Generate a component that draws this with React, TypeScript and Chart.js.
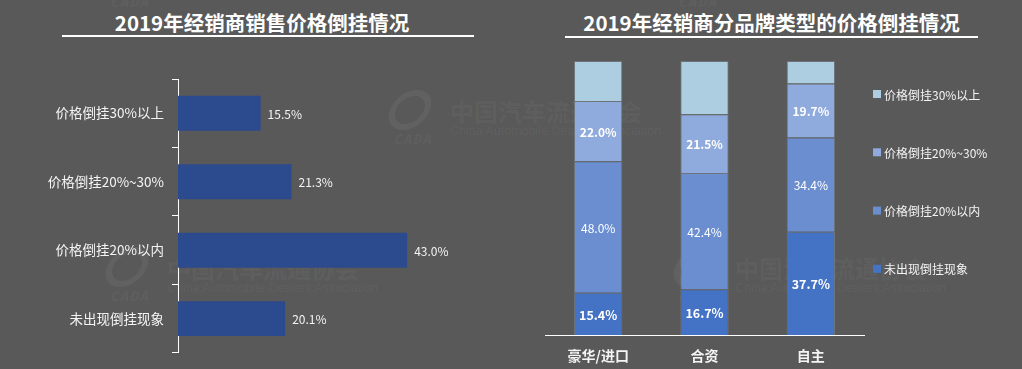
import React, { useEffect, useRef } from "react";
import { Chart, registerables } from "chart.js";

Chart.register(...registerables);

const FONT = '"Noto Sans CJK SC", "Microsoft YaHei", sans-serif';

// ---- Left chart data ----
const leftTitle = "2019年经销商销售价格倒挂情况";
const leftCategories = ["价格倒挂30%以上", "价格倒挂20%~30%", "价格倒挂20%以内", "未出现倒挂现象"];
const leftValues = [15.5, 21.3, 43.0, 20.1];

// ---- Right chart data ----
const rightTitle = "2019年经销商分品牌类型的价格倒挂情况";
const brandCategories = ["豪华/进口", "合资", "自主"];
const seriesNames = ["未出现倒挂现象", "价格倒挂20%以内", "价格倒挂20%~30%", "价格倒挂30%以上"];
const noInversion = [15.4, 16.7, 37.7];
const within20 = [48.0, 42.4, 34.4];
const from20to30 = [22.0, 21.5, 19.7];
const above30 = [14.6, 19.4, 8.2];
const seriesColors = ["#4472C4", "#6A8ED0", "#8FAADC", "#ADCDE0"];
const labeledSeries = [true, true, true, false];
const boldSeries = [true, false, true, false];

const BG = "#595959";
const TEXT = "#f4f4f4";

const leftLabelPlugin = {
  id: "leftLabels",
  afterDatasetsDraw(chart: any) {
    const ctx = chart.ctx;
    const meta = chart.getDatasetMeta(0);
    ctx.save();
    ctx.font = `12px ${FONT}`;
    ctx.fillStyle = TEXT;
    ctx.textAlign = "left";
    ctx.textBaseline = "middle";
    meta.data.forEach((bar: any, i: number) => {
      ctx.fillText(leftValues[i].toFixed(1) + "%", bar.x + 7, bar.y + 1);
    });
    ctx.restore();
  },
};

const rightLabelPlugin = {
  id: "rightLabels",
  afterDatasetsDraw(chart: any) {
    const ctx = chart.ctx;
    ctx.save();
    ctx.textAlign = "center";
    ctx.textBaseline = "middle";
    ctx.fillStyle = "#ffffff";
    chart.data.datasets.forEach((ds: any, di: number) => {
      if (!labeledSeries[di]) return;
      const meta = chart.getDatasetMeta(di);
      ctx.font = `${boldSeries[di] ? "bold " : ""}${di === 0 ? 12.5 : 12}px ${FONT}`;
      meta.data.forEach((bar: any, i: number) => {
        const cy = (bar.y + bar.base) / 2;
        ctx.fillText(Number(ds.data[i]).toFixed(1) + "%", bar.x, cy + 1);
      });
    });
    ctx.restore();
  },
};

const rightLegendPlugin = {
  id: "rightLegend",
  afterDraw(chart: any) {
    const ctx = chart.ctx;
    const ds = chart.data.datasets;
    const x0 = chart.chartArea.right + 9;
    const y0 = 94;
    const step = 58.3;
    ctx.save();
    ctx.font = `12px ${FONT}`;
    ctx.textAlign = "left";
    ctx.textBaseline = "middle";
    for (let k = 0; k < ds.length; k++) {
      const d = ds[ds.length - 1 - k];
      const y = y0 + k * step;
      ctx.fillStyle = d.backgroundColor;
      ctx.fillRect(x0, y - 4, 8, 8);
      ctx.fillStyle = TEXT;
      ctx.fillText(d.label, x0 + 11, y + 1);
    }
    ctx.restore();
  },
};

function Watermark({ x, y }: { x: number; y: number }) {
  const c = "rgba(255,255,255,0.05)";
  return (
    <div style={{ position: "absolute", left: 0, top: 0, pointerEvents: "none", color: c }}>
      <div
        style={{
          position: "absolute",
          left: x - 60,
          top: y - 36,
          width: 40,
          height: 40,
          borderRadius: "50%",
          border: `6px solid ${c}`,
          boxSizing: "border-box",
          transform: "skewX(-20deg)",
        }}
      />
      <div style={{ position: "absolute", left: x - 57, top: y + 6, font: `italic 900 13px ${FONT}`, lineHeight: "13px", letterSpacing: "1px" }}>
        CADA
      </div>
      <div style={{ position: "absolute", left: x, top: y - 29, font: `bold 24px ${FONT}`, lineHeight: "28px", whiteSpace: "nowrap" }}>
        中国汽车流通协会
      </div>
      <div style={{ position: "absolute", left: x, top: y - 2, font: `12.5px "Liberation Sans", Arial, sans-serif`, lineHeight: "14px", whiteSpace: "nowrap" }}>
        China Automobile Dealers Association
      </div>
    </div>
  );
}

export default function App() {
  const leftRef = useRef<HTMLCanvasElement>(null);
  const rightRef = useRef<HTMLCanvasElement>(null);

  useEffect(() => {
    const left = new Chart(leftRef.current as HTMLCanvasElement, {
      type: "bar",
      data: {
        labels: leftCategories,
        datasets: [
          {
            label: leftTitle,
            data: leftValues,
            backgroundColor: "#2C4A8E",
            barPercentage: 0.51,
            categoryPercentage: 1,
          },
        ],
      },
      options: {
        indexAxis: "y",
        responsive: false,
        animation: false,
        layout: { padding: { top: 79, bottom: 16, left: 0, right: 95.5 } },
        plugins: { legend: { display: false }, tooltip: { enabled: false } },
        scales: {
          x: { display: false, min: 0, max: 50 },
          y: {
            afterFit: (s: any) => {
              s.width = 178;
            },
            grid: {
              display: true,
              drawOnChartArea: false,
              drawTicks: true,
              tickLength: 6,
              color: "#ffffff",
              offset: true,
            },
            border: { display: true, color: "#ffffff", width: 1 },
            ticks: { color: TEXT, font: { size: 13.5, family: FONT }, padding: 8 },
          },
        },
      } as any,
      plugins: [leftLabelPlugin],
    });

    const seriesData = [noInversion, within20, from20to30, above30];
    const right = new Chart(rightRef.current as HTMLCanvasElement, {
      type: "bar",
      data: {
        labels: brandCategories,
        datasets: seriesData.map((d, i) => ({
          label: seriesNames[i],
          data: d,
          backgroundColor: seriesColors[i],
          borderColor: "rgba(150,162,180,0.35)",
          borderWidth: 1,
          barPercentage: 0.455,
          categoryPercentage: 1,
        })),
      },
      options: {
        responsive: false,
        animation: false,
        layout: { padding: { top: 61, bottom: 0, left: 5, right: 158 } },
        plugins: { legend: { display: false }, tooltip: { enabled: false } },
        scales: {
          x: {
            stacked: true,
            afterFit: (s: any) => {
              s.height = 34;
            },
            grid: { display: false, drawTicks: false },
            border: { display: true, color: "#ffffff", width: 1 },
            ticks: { color: TEXT, font: { size: 14, family: FONT, weight: "bold" }, padding: 12 },
          },
          y: { stacked: true, display: false, min: 0, max: 100 },
        },
      } as any,
      plugins: [rightLabelPlugin, rightLegendPlugin],
    });

    return () => {
      left.destroy();
      right.destroy();
    };
  }, []);

  const titleStyle: React.CSSProperties = {
    position: "absolute",
    top: 7,
    font: `bold 20.5px ${FONT}`,
    lineHeight: "30px",
    color: "#ffffff",
    textAlign: "center",
    whiteSpace: "nowrap",
  };

  return (
    <div
      style={{
        position: "fixed",
        left: 0,
        top: 0,
        width: 1022,
        height: 369,
        background: BG,
        overflow: "hidden",
        fontFamily: FONT,
      }}
    >
      <Watermark x={167} y={-11} />
      <Watermark x={735} y={-11} />
      <Watermark x={450} y={126} />
      <Watermark x={167} y={283} />
      <Watermark x={735} y={283} />

      <div style={{ ...titleStyle, left: 56, width: 412 }}>{leftTitle}</div>
      <div style={{ position: "absolute", left: 62, top: 35, width: 412, height: 2, background: "#ffffff" }} />
      <div style={{ ...titleStyle, left: 565, width: 413 }}>{rightTitle}</div>
      <div style={{ position: "absolute", left: 565, top: 36, width: 413, height: 2, background: "#ffffff" }} />

      <canvas ref={leftRef} width={540} height={369} style={{ position: "absolute", left: 0, top: 0 }} />
      <canvas ref={rightRef} width={482} height={369} style={{ position: "absolute", left: 540, top: 0 }} />
    </div>
  );
}
